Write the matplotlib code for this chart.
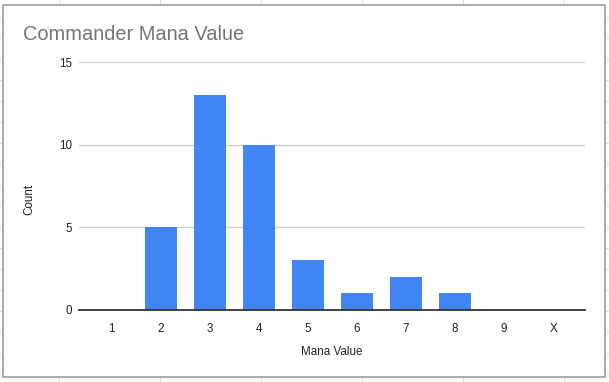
import matplotlib.pyplot as plt
from matplotlib.patches import Rectangle
from matplotlib.lines import Line2D

plt.rcParams['font.family'] = ['Liberation Sans', 'DejaVu Sans']

categories = ["1", "2", "3", "4", "5", "6", "7", "8", "9", "X"]
counts = [0, 5, 13, 10, 3, 1, 2, 1, 0, 0]
y_ticks = [0, 5, 10, 15]

W, H = 609, 382
fig = plt.figure(figsize=(W / 100, H / 100), dpi=100)
fig.patch.set_facecolor("white")

def px(x, y):
    return x / W, 1 - y / H

# spreadsheet cells behind the chart
for gx in range(59, W, 101):
    fig.add_artist(Line2D([gx / W, gx / W], [0, 1], color="#e0e0e0", lw=0.8, zorder=-3))
for gy in range(17, H, 21):
    fig.add_artist(Line2D([0, 1], [1 - gy / H, 1 - gy / H], color="#e0e0e0", lw=0.8, zorder=-3))

# chart card
x0, y0 = px(3, 377)
x1, y1 = px(605, 5)
fig.add_artist(Rectangle((x0, y0), x1 - x0, y1 - y0, transform=fig.transFigure,
                         facecolor="white", edgecolor="#9e9e9e", lw=1.2, zorder=-2))

left, top = px(79, 62)
right, bottom = px(585, 310)
ax = fig.add_axes([left, bottom, right - left, top - bottom])
ax.set_facecolor("none")

pos = list(range(len(categories)))
ax.bar(pos, counts, width=0.65, color="#4285f4", zorder=3)

ax.set_xlim(-0.67, 9.65)
ax.set_ylim(0, 15)
ax.set_xticks(pos)
ax.set_xticklabels(categories)
ax.set_yticks(y_ticks)
ax.tick_params(axis="both", length=0, labelsize=8.4, colors="#222222")
ax.tick_params(axis="x", pad=9)
ax.tick_params(axis="y", pad=5)
ax.yaxis.grid(True, color="#cccccc", lw=0.9)
ax.set_axisbelow(True)
for s in ["top", "right", "left"]:
    ax.spines[s].set_visible(False)
ax.spines["bottom"].set_color("#333333")
ax.spines["bottom"].set_linewidth(1.3)
ax.spines["bottom"].set_zorder(4)

tx, ty = px(23, 34)
fig.text(tx, ty, "Commander Mana Value", fontsize=14.4, color="#757575", va="center", ha="left")
lx, ly = px(29, 199)
fig.text(lx, ly, "Count", fontsize=8.4, color="#222222", rotation=90, va="center", ha="center")
mx, my = px(332, 352)
fig.text(mx, my, "Mana Value", fontsize=8.4, color="#222222", va="center", ha="center")

fig.savefig("out.png", dpi=100)
